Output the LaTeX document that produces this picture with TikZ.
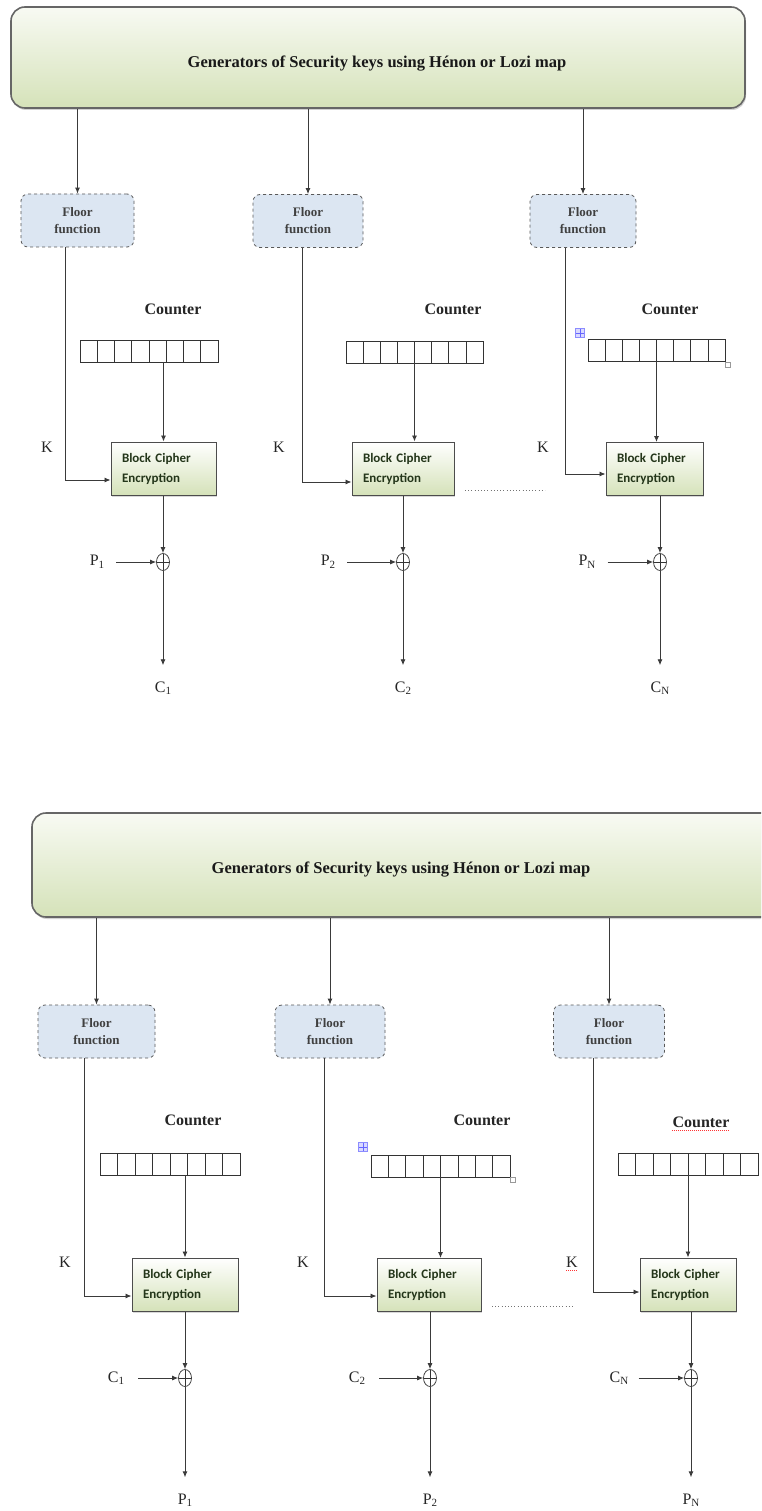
\documentclass[tikz,border=0pt]{standalone}
\usepackage{fontspec}
\setmainfont{Liberation Serif}[BoldFont={Liberation Serif Bold}]
\newfontfamily\calib{Carlito}
\usetikzlibrary{arrows.meta,shadows,calc,shapes.geometric}
\definecolor{bannertop}{HTML}{F8FAF3}
\definecolor{bannerbot}{HTML}{D5E2B9}
\definecolor{floorfill}{HTML}{DCE6F2}
\definecolor{linec}{HTML}{3A3A3A}
\definecolor{boxtext}{HTML}{24361A}
\newcommand\mysub[1]{\raisebox{-2.5pt}{\fontsize{11}{11}\selectfont #1}}
\begin{document}
\begin{tikzpicture}[x=1pt,y=-1pt,
  banner/.style={draw=black!60, line width=1.6pt, rounded corners=14pt,
    top color=bannertop, bottom color=bannerbot, inner sep=0pt,
    drop shadow={shadow xshift=1pt,shadow yshift=-2pt,fill=black!35}},
  title/.style={font=\fontsize{16.5}{18}\selectfont\bfseries, text=black!90, inner sep=0pt},
  floorbox/.style={draw=black!65, dashed, line width=0.8pt, rounded corners=7pt,
    fill=floorfill, align=center, font=\fontsize{13}{17}\selectfont\bfseries,
    text=black!75, minimum height=53pt, inner sep=0pt},
  cntlab/.style={font=\fontsize{16}{18}\selectfont\bfseries, text=black!85, inner sep=0pt},
  reg/.style={draw=black!80, line width=0.7pt, minimum height=22pt, inner sep=0pt,
    path picture={\foreach \i in {1,...,7}{\draw[black!80,line width=0.7pt]
      ($(path picture bounding box.north west)!\i/8!(path picture bounding box.north east)$) --
      ($(path picture bounding box.south west)!\i/8!(path picture bounding box.south east)$);}}},
  cipher/.style={draw=black!70, line width=1pt, top color=white, bottom color=bannerbot,
    minimum height=53pt, inner xsep=11pt, align=left, text=boxtext,
    font=\calib\fontsize{13}{20}\selectfont\bfseries,
    drop shadow={shadow xshift=1.2pt,shadow yshift=-1.5pt,fill=black!30}},
  xorn/.style={draw=black!80, line width=0.7pt, ellipse, minimum width=13pt,
    minimum height=17pt, inner sep=0pt,
    path picture={\draw[black!80,line width=0.7pt]
      (path picture bounding box.north) -- (path picture bounding box.south)
      (path picture bounding box.west) -- (path picture bounding box.east);}},
  lab/.style={font=\fontsize{16}{18}\selectfont, text=black!85, inner sep=0pt},
  arr/.style={draw=linec, line width=0.9pt, -{Latex[length=6pt,width=5pt]}},
  dotline/.style={draw=black!55, line width=1pt, dash pattern=on 1pt off 2.2pt},
  handle/.style={draw=blue!45, fill=blue!15, minimum size=9pt, inner sep=0pt,
    path picture={\draw[blue!60,line width=0.4pt]
      (path picture bounding box.north) -- (path picture bounding box.south)
      (path picture bounding box.west) -- (path picture bounding box.east);}},
  rsz/.style={draw=black!40, fill=white, minimum size=5pt, inner sep=0pt, line width=0.4pt},
  spell/.style={draw=red!80, line width=0.8pt, dash pattern=on 1pt off 1pt}
]
\useasboundingbox (0,0) rectangle (761,1511);
\fill[white] (0,0) rectangle (761,1511);

% ================= TOP (encryption) =================
\node[banner, minimum width=734pt, minimum height=101pt] (b1) at (378,57.5) {};
\node[title] (t1) at (377,64) {Generators of Security keys using Hénon or Lozi map};

\node[floorbox, minimum width=113pt] (f1) at (77.5,220.5) {Floor\\function};
\node[floorbox, minimum width=110pt] (f2) at (308,221) {Floor\\function};
\node[floorbox, minimum width=106pt] (f3) at (583,221) {Floor\\function};

\node[cntlab] (n1) at (173,309) {Counter};
\node[cntlab] (n2) at (453,309) {Counter};
\node[cntlab] (n3) at (670,309) {Counter};

\node[reg, minimum width=138pt] (r1) at (149,351) {};
\node[reg, minimum width=137pt] (r2) at (414.5,352) {};
\node[reg, minimum width=137pt] (r3) at (656.5,350) {};
\node[handle] (h1) at (580,333) {};
\node[rsz] (h2) at (728,365) {};

\node[cipher, text width=83pt] (bc1) at (163.5,468.5) {Block Cipher\\Encryption};
\node[cipher, text width=80pt] (bc2) at (403,468.5) {Block Cipher\\Encryption};
\node[cipher, text width=75pt] (bc3) at (654.5,469) {Block Cipher\\Encryption};

\node[lab] (k1) at (47,447) {K};
\node[lab] (k2) at (279,447) {K};
\node[lab] (k3) at (543,447) {K};

\node[xorn] (x1) at (163,562) {};
\node[xorn] (x2) at (403,562) {};
\node[xorn] (x3) at (660,562) {};

\node[lab] (p1) at (97,562) {P\mysub{1}};
\node[lab] (p2) at (328,562) {P\mysub{2}};
\node[lab] (p3) at (587,562) {P\mysub{N}};

\node[lab] (c1) at (163,688) {C\mysub{1}};
\node[lab] (c2) at (403,688) {C\mysub{2}};
\node[lab] (c3) at (660,688) {C\mysub{N}};

\draw[arr] (b1.south -| f1.north) -- (f1.north);
\draw[arr] (b1.south -| f2.north) -- (f2.north);
\draw[arr] (b1.south -| f3.north) -- (f3.north);

\draw[arr] ([xshift=-12.5pt]f1.south) |- ([yshift=-11.5pt]bc1.west);
\draw[arr] ([xshift=-6pt]f2.south) |- ([yshift=-13.5pt]bc2.west);
\draw[arr] ([xshift=-18pt]f3.south) |- ([yshift=-5pt]bc3.west);

\draw[arr] (r1.south -| bc1.north) -- (bc1.north);
\draw[arr] (r2.south) -- (r2.south |- bc2.north);
\draw[arr] (r3.south) -- (r3.south |- bc3.north);

\draw[arr] (bc1.south -| x1.north) -- (x1.north);
\draw[arr] (bc2.south -| x2.north) -- (x2.north);
\draw[arr] (bc3.south -| x3.north) -- (x3.north);

\draw[arr, shorten <=12pt] (p1.east) -- (x1.west);
\draw[arr, shorten <=12pt] (p2.east) -- (x2.west);
\draw[arr, shorten <=12pt] (p3.east) -- (x3.west);

\draw[arr, shorten >=16pt] (x1.south) -- (c1.north);
\draw[arr, shorten >=16pt] (x2.south) -- (c2.north);
\draw[arr, shorten >=16pt] (x3.south) -- (c3.north);

\coordinate (d1) at (465,490);
\coordinate (d2) at (545,490);
\draw[dotline] (d1) -- (d2);

% ================= BOTTOM (decryption) =================
\begin{scope}
\clip (0,0) rectangle (761,1511);
\node[banner, minimum width=758pt, minimum height=104pt] (b2) at (411,865) {};
\end{scope}
\node[title] (t2) at (401,870) {Generators of Security keys using Hénon or Lozi map};

\node[floorbox, minimum width=117pt] (g1) at (96.5,1031.5) {Floor\\function};
\node[floorbox, minimum width=110pt] (g2) at (330,1031.5) {Floor\\function};
\node[floorbox, minimum width=111pt] (g3) at (609,1031.5) {Floor\\function};

\node[cntlab] (m1) at (193,1120) {Counter};
\node[cntlab] (m2) at (482,1120) {Counter};
\node[cntlab] (m3) at (701,1122) {Counter};
\draw[spell] ([yshift=-3pt]m3.south west) -- ([yshift=-3pt]m3.south east);

\node[reg, minimum width=140pt] (s1) at (170,1164) {};
\node[reg, minimum width=139pt] (s2) at (440.5,1166) {};
\node[reg, minimum width=140pt] (s3) at (688,1164) {};
\node[handle] (h3) at (363,1147) {};
\node[rsz] (h4) at (513,1180) {};

\node[cipher, text width=84pt] (e1) at (185,1284.5) {Block Cipher\\Encryption};
\node[cipher, text width=82pt] (e2) at (429,1285) {Block Cipher\\Encryption};
\node[cipher, text width=74pt] (e3) at (688,1284.5) {Block Cipher\\Encryption};

\node[lab] (q1) at (65,1262) {K};
\node[lab] (q2) at (303,1262) {K};
\node[lab] (q3) at (572,1262) {K};
\draw[spell] ([yshift=-3pt]q3.south west) -- ([yshift=-3pt]q3.south east);

\node[xorn] (y1) at (185,1378) {};
\node[xorn] (y2) at (430,1378) {};
\node[xorn] (y3) at (691,1378) {};

\node[lab] (u1) at (116,1378) {C\mysub{1}};
\node[lab] (u2) at (357,1378) {C\mysub{2}};
\node[lab] (u3) at (619,1378) {C\mysub{N}};

\node[lab] (v1) at (185,1500) {P\mysub{1}};
\node[lab] (v2) at (430,1500) {P\mysub{2}};
\node[lab] (v3) at (691,1500) {P\mysub{N}};

\draw[arr] (b2.south -| g1.north) -- (g1.north);
\draw[arr] (b2.south -| g2.north) -- (g2.north);
\draw[arr] (b2.south -| g3.north) -- (g3.north);

\draw[arr] ([xshift=-12.5pt]g1.south) |- ([yshift=-11.5pt]e1.west);
\draw[arr] ([xshift=-6pt]g2.south) |- ([yshift=-11pt]e2.west);
\draw[arr] ([xshift=-16pt]g3.south) |- ([yshift=-7.5pt]e3.west);

\draw[arr] (s1.south -| e1.north) -- (e1.north);
\draw[arr] (s2.south) -- (s2.south |- e2.north);
\draw[arr] (s3.south -| e3.north) -- (e3.north);

\draw[arr] (e1.south -| y1.north) -- (y1.north);
\draw[arr] (e2.south -| y2.north) -- (y2.north);
\draw[arr] (e3.south -| y3.north) -- (y3.north);

\draw[arr, shorten <=14pt] (u1.east) -- (y1.west);
\draw[arr, shorten <=14pt] (u2.east) -- (y2.west);
\draw[arr, shorten <=10pt] (u3.east) -- (y3.west);

\draw[arr, shorten >=16pt] (y1.south) -- (v1.north);
\draw[arr, shorten >=16pt] (y2.south) -- (v2.north);
\draw[arr, shorten >=16pt] (y3.south) -- (v3.north);

\coordinate (d3) at (492,1306);
\coordinate (d4) at (573,1306);
\draw[dotline] (d3) -- (d4);
\end{tikzpicture}
\end{document}
